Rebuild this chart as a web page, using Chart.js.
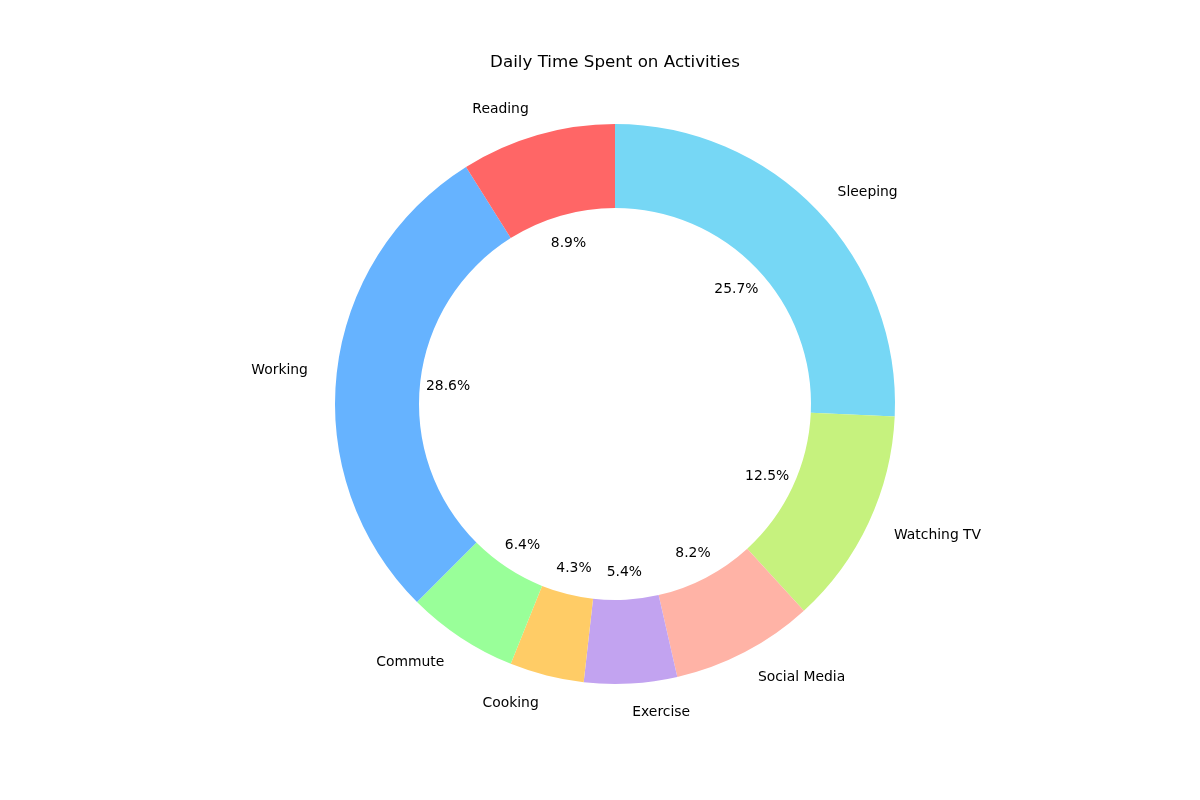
<!DOCTYPE html>
<html>
<head>
<meta charset="utf-8">
<script src="https://cdn.jsdelivr.net/npm/chart.js@4"></script>
<style>
  html, body { margin: 0; padding: 0; background: #fff; }
  #wrap { width: 1200px; height: 800px; }
</style>
</head>
<body>
<div id="wrap"><canvas id="chart" width="1200" height="800"></canvas></div>
<script>
// ===== Datos (horas por actividad) =====
// orden matplotlib (antihorario desde arriba)
const labels = ["Reading", "Working", "Commute", "Cooking", "Exercise", "Social Media", "Watching TV", "Sleeping"];
const hours = [2.5, 8, 1.8, 1.2, 1.5, 2.3, 3.5, 7.2];
const colors = ["#ff6666", "#66b3ff", "#99ff99", "#ffcc66", "#c2a3f0", "#ffb3a6", "#c6f27e", "#76d7f5"];
const title = "Daily Time Spent on Activities";

// Chart.js gira en sentido horario: invertimos el orden
const cLabels = [...labels].reverse();
const cHours = [...hours].reverse();
const cColors = [...colors].reverse();
const total = hours.reduce((a, b) => a + b, 0);

const FONT = "'DejaVu Sans', sans-serif";

// ===== Plugin: título + etiquetas tipo matplotlib =====
const pieLabels = {
  id: "pieLabels",
  afterDraw(chart) {
    const ctx = chart.ctx;
    ctx.save();
    ctx.fillStyle = "#000";
    ctx.font = "16.7px " + FONT;
    ctx.textAlign = "center";
    ctx.textBaseline = "middle";
    ctx.fillText(title, 615, 63);

    const arcs = chart.getDatasetMeta(0).data;
    arcs.forEach((arc, i) => {
      const { x, y, startAngle, endAngle, outerRadius } = arc.getProps(["x", "y", "startAngle", "endAngle", "outerRadius"], true);
      const mid = (startAngle + endAngle) / 2;
      const c = Math.cos(mid), s = Math.sin(mid);
      ctx.font = "13.9px " + FONT;
      // etiqueta exterior
      ctx.textAlign = c < 0 ? "right" : "left";
      ctx.textBaseline = "middle";
      const dx = c < 0 ? -1 : 0;
      ctx.fillText(cLabels[i], x + c * outerRadius * 1.1 + dx, y + s * outerRadius * 1.1 + 1);
      // porcentaje
      ctx.textAlign = "center";
      const pct = (cHours[i] / total * 100).toFixed(1) + "%";
      ctx.fillText(pct, x + c * outerRadius * 0.6, y + s * outerRadius * 0.6 + 1);
    });
    ctx.restore();
  }
};

new Chart(document.getElementById("chart"), {
  type: "doughnut",
  data: {
    labels: cLabels,
    datasets: [{
      data: cHours,
      backgroundColor: cColors,
      borderWidth: 0
    }]
  },
  options: {
    responsive: false,
    animation: false,
    cutout: "70%",
    rotation: 0,
    layout: { padding: { top: 124, bottom: 116, left: 335, right: 305 } },
    plugins: {
      legend: { display: false },
      title: { display: false },
      tooltip: { enabled: false }
    }
  },
  plugins: [pieLabels]
});
</script>
</body>
</html>
